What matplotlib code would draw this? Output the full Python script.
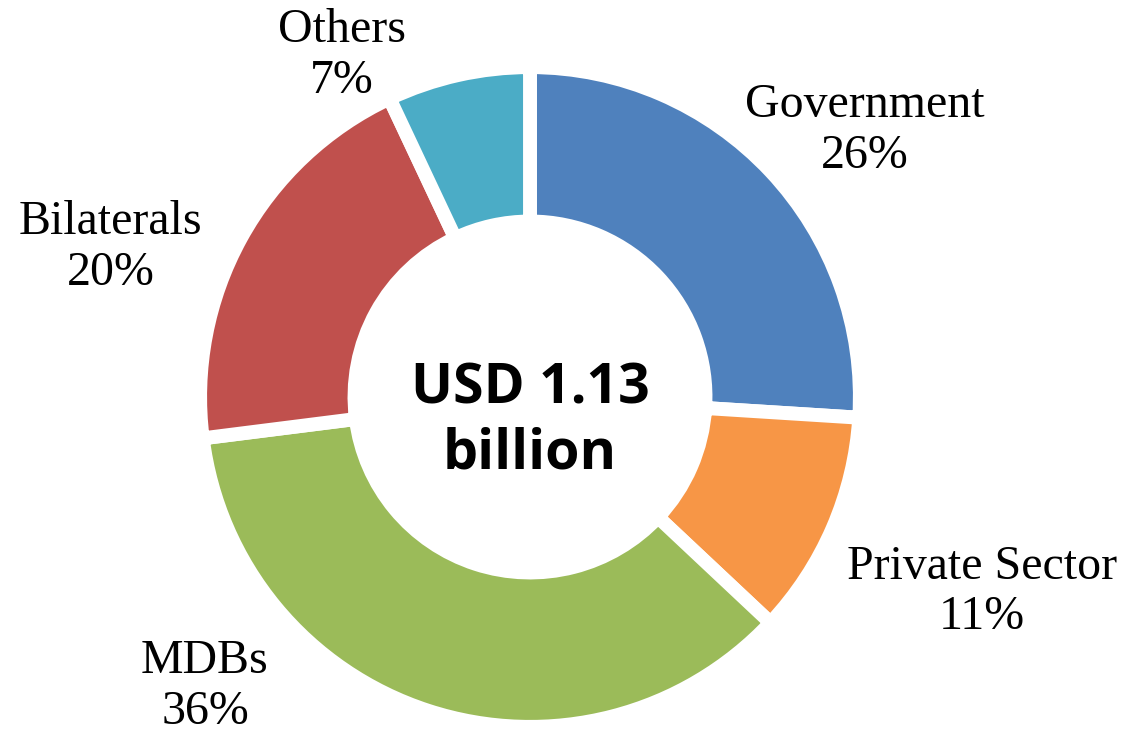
import numpy as np
import matplotlib.pyplot as plt

# data
categories = ['Government', 'Private Sector', 'MDBs', 'Bilaterals', 'Others']
shares = [26, 11, 36, 20, 7]
colors = ['#4F81BD', '#F79646', '#9BBB59', '#C0504D', '#4BACC6']
# label centres (data units, radius = 1) as placed in the original
label_xy = [(1.03, 0.82), (1.39, -0.60), (-1.00, -0.89), (-1.29, 0.46), (-0.58, 1.05)]
center_text = 'USD 1.13\nbillion'

fig = plt.figure(figsize=(11.24, 7.35), dpi=100)
ax = fig.add_axes([0, 0, 1, 1])

wedges, _ = ax.pie(shares, colors=colors, startangle=90, counterclock=False,
                   radius=1.015,
                   wedgeprops=dict(width=0.475, edgecolor='white', linewidth=10))

for name, val, (x, y) in zip(categories, shares, label_xy):
    ax.text(x, y, f'{name}\n{val}%', ha='center', va='center',
            fontsize=34.5, family=['Liberation Serif', 'DejaVu Serif'],
            linespacing=1.2)

ax.text(0, -0.075, center_text, ha='center', va='center', fontsize=40,
        fontweight='bold', family=['Open Sans', 'DejaVu Sans'], linespacing=1.25)

ax.set_xlim(-530 / 325, (1124 - 530) / 325)
ax.set_ylim((397 - 735) / 325, 397 / 325)
ax.set_aspect('auto')
ax.axis('off')

plt.savefig('out.png', dpi=100)
